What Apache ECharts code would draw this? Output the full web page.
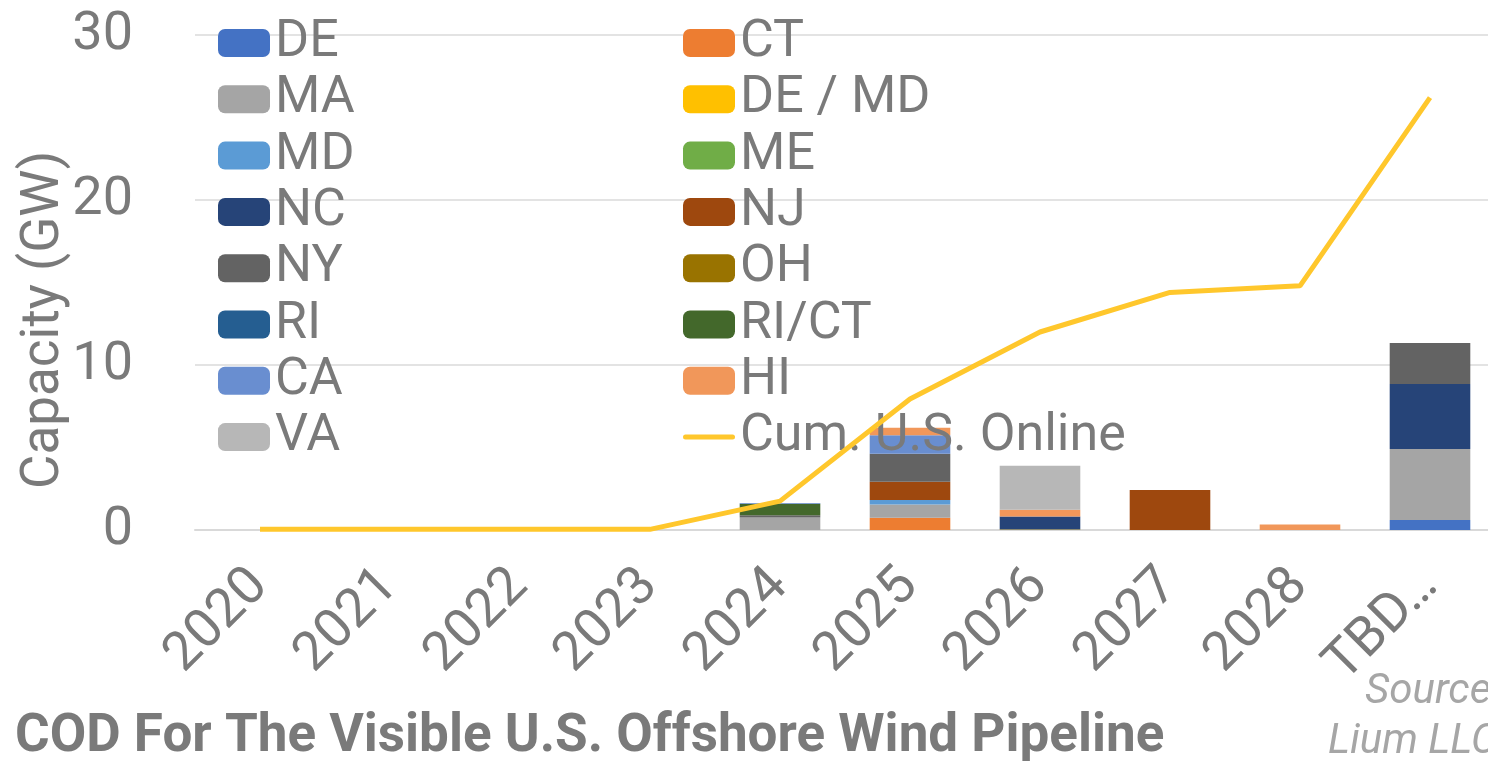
<!DOCTYPE html>
<html>
<head>
<meta charset="utf-8">
<script src="https://cdn.jsdelivr.net/npm/echarts@6/dist/echarts.min.js"></script>
<style>
  html, body { margin: 0; padding: 0; background: #fff; overflow: hidden; }
  #main { width: 1495px; height: 761px; }
</style>
</head>
<body>
<div id="main"></div>
<script>
// categories (x axis)
var years = ['2020', '2021', '2022', '2023', '2024', '2025', '2026', '2027', '2028', 'TBD…'];

// capacity by state, GW
var DE    = [0, 0, 0, 0, 0, 0, 0, 0, 0, 0.61];
var CT    = [0, 0, 0, 0, 0, 0.75, 0, 0, 0, 0];
var MA    = [0, 0, 0, 0, 0.76, 0.79, 0, 0, 0, 4.3];
var DE_MD = [0, 0, 0, 0, 0, 0, 0.03, 0, 0, 0];
var MD    = [0, 0, 0, 0, 0, 0.28, 0, 0, 0, 0];
var ME    = [0, 0, 0, 0, 0, 0, 0, 0, 0, 0];
var NC    = [0, 0, 0, 0, 0, 0, 0.79, 0, 0, 3.94];
var NJ    = [0, 0, 0, 0, 0, 1.1, 0, 2.42, 0, 0];
var NY    = [0, 0, 0, 0, 0.13, 1.7, 0, 0, 0, 2.48];
var OH    = [0, 0, 0, 0, 0, 0, 0, 0, 0, 0];
var RI    = [0, 0, 0, 0, 0, 0, 0, 0, 0, 0];
var RI_CT = [0, 0, 0, 0, 0.7, 0, 0, 0, 0, 0];
var CA    = [0, 0, 0, 0, 0.04, 1.13, 0, 0, 0, 0];
var HI    = [0, 0, 0, 0, 0, 0.44, 0.4, 0, 0.34, 0];
var VA    = [0, 0, 0, 0, 0, 0, 2.67, 0, 0, 0];
// cumulative online
var cumOnline = [0.04, 0.04, 0.04, 0.04, 1.75, 7.94, 12.0, 14.4, 14.8, 26.2];

var stateNames = ['DE', 'CT', 'MA', 'DE / MD', 'MD', 'ME', 'NC', 'NJ', 'NY', 'OH', 'RI', 'RI/CT', 'CA', 'HI', 'VA'];
var stateData  = [DE, CT, MA, DE_MD, MD, ME, NC, NJ, NY, OH, RI, RI_CT, CA, HI, VA];
var stateColors = ['#4472C4', '#ED7D31', '#A5A5A5', '#FFC000', '#5B9BD5', '#70AD47', '#264478',
                   '#9E480E', '#636363', '#997300', '#255E91', '#43682B', '#698ED0', '#F1975A', '#B7B7B7'];

var gray = '#7a7a7a';
var font = 'Roboto';

var chart = echarts.init(document.getElementById('main'));

var series = [];
for (var i = 0; i < stateNames.length; i++) {
    series.push({
        name: stateNames[i],
        type: 'bar',
        stack: 'cap',
        barWidth: '62%',
        itemStyle: { color: stateColors[i] },
        data: stateData[i]
    });
}
series.push({
    name: 'Cum. U.S. Online',
    type: 'line',
    symbol: 'none',
    z: 5,
    lineStyle: { color: '#FFC72C', width: 5 },
    itemStyle: { color: '#FFC72C' },
    data: cumOnline
});

var legendText = { color: gray, fontSize: 52, fontFamily: font };
// thin bar used as the line-series legend key
var lineKey = 'path://M5,0 L99,0 A5,5 0 0 1 99,10 L5,10 A5,5 0 0 1 5,0 Z';

chart.setOption({
    animation: false,
    textStyle: { fontFamily: font },
    grid: { left: 195, top: 35, right: 0, height: 495 },
    legend: [
        {
            orient: 'vertical', left: 213, top: 12,
            itemWidth: 52, itemHeight: 28, itemGap: 4.3,
            textStyle: legendText,
            data: ['DE', 'MA', 'MD', 'NC', 'NY', 'RI', 'CA', 'VA']
        },
        {
            orient: 'vertical', left: 678, top: 12,
            itemWidth: 52, itemHeight: 28, itemGap: 4.3,
            textStyle: legendText,
            data: ['CT', 'DE / MD', 'ME', 'NJ', 'OH', 'RI/CT', 'HI', { name: 'Cum. U.S. Online', icon: lineKey }]
        }
    ],
    xAxis: {
        type: 'category',
        data: years,
        axisLine: { lineStyle: { color: '#d9d9d9', width: 2 } },
        axisTick: { show: false },
        axisLabel: { rotate: 45, margin: 48, color: gray, fontSize: 54, fontFamily: font }
    },
    yAxis: {
        type: 'value',
        min: 0, max: 30, interval: 10,
        axisLine: { show: false },
        axisTick: { show: false },
        splitLine: { lineStyle: { color: '#e3e3e3', width: 2 } },
        axisLabel: { margin: 62, color: gray, fontSize: 54, fontFamily: font }
    },
    graphic: [
        {
            type: 'text', x: 45, y: 320, rotation: Math.PI / 2,
            style: { text: 'Capacity (GW)', fill: gray, fontSize: 53, fontFamily: font,
                     textAlign: 'center', textVerticalAlign: 'middle' }
        },
        {
            type: 'text', left: 15, top: 711,
            style: { text: 'COD For The Visible U.S. Offshore Wind Pipeline', fill: gray,
                     fontSize: 53, fontWeight: 'bold', fontFamily: font }
        },
        {
            type: 'text', x: 1365, y: 671,
            style: { text: 'Source:', fill: '#a6a6a6', fontSize: 42, fontStyle: 'italic', fontFamily: font }
        },
        {
            type: 'text', x: 1328, y: 721,
            style: { text: 'Lium LLC', fill: '#a6a6a6', fontSize: 42, fontStyle: 'italic', fontFamily: font }
        }
    ],
    series: series
});
</script>
</body>
</html>
